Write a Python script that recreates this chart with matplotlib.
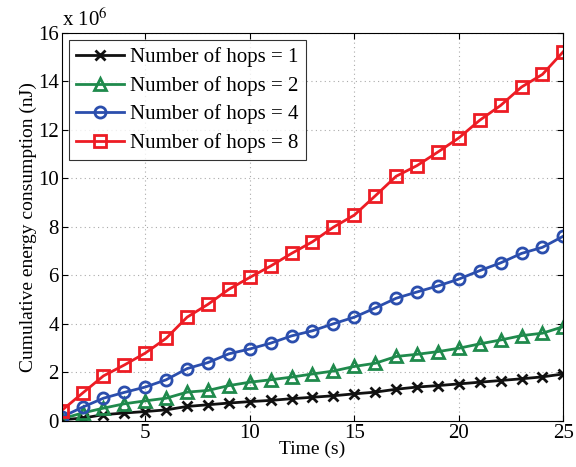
import matplotlib
matplotlib.use("Agg")
import matplotlib.pyplot as plt
import numpy as np

time = list(range(1, 26))
hops1 = [0.04, 0.11, 0.25, 0.32, 0.38, 0.45, 0.59, 0.66, 0.73, 0.79, 0.84, 0.91, 0.97, 1.03,
         1.11, 1.18, 1.30, 1.39, 1.45, 1.52, 1.59, 1.66, 1.73, 1.81, 1.93]
hops2 = [0.08, 0.32, 0.52, 0.70, 0.82, 0.93, 1.18, 1.25, 1.45, 1.59, 1.69, 1.80, 1.93, 2.05,
         2.24, 2.37, 2.65, 2.74, 2.85, 2.99, 3.17, 3.33, 3.51, 3.61, 3.88]
hops4 = [0.15, 0.56, 0.93, 1.17, 1.39, 1.69, 2.15, 2.40, 2.76, 2.96, 3.20, 3.50, 3.71, 4.00,
         4.27, 4.65, 5.05, 5.31, 5.56, 5.84, 6.19, 6.51, 6.90, 7.15, 7.61]
hops8 = [0.42, 1.14, 1.85, 2.30, 2.79, 3.40, 4.27, 4.80, 5.42, 5.91, 6.38, 6.90, 7.38, 7.98,
         8.48, 9.27, 10.08, 10.52, 11.08, 11.66, 12.39, 13.00, 13.76, 14.28, 15.22]
labels = ["Number of hops = 1", "Number of hops = 2", "Number of hops = 4", "Number of hops = 8"]

plt.rcParams['font.family'] = ['Liberation Serif', 'DejaVu Serif']
plt.rcParams['mathtext.fontset'] = 'stix'

fig = plt.figure(figsize=(5.76, 4.67), dpi=100)
ax = fig.add_axes([0.107, 0.099, 0.871, 0.831])

scale = 1e6
series = [hops1, hops2, hops4, hops8]
colors = ['#111111', '#1f8a4c', '#2b4ead', '#ed1c24']
markers = ['x', '^', 'o', 's']
msizes = [7, 8, 8, 8]
for s, c, m, ms, lab in zip(series, colors, markers, msizes, labels):
    ax.plot(time, np.array(s) * scale, color=c, marker=m, markersize=ms,
            markerfacecolor='none', markeredgecolor=c, markeredgewidth=2,
            linewidth=2, label=lab)

ax.set_xlim(1, 25)
ax.set_ylim(0, 16e6)
ax.set_xticks([5, 10, 15, 20, 25])
yt = np.arange(0, 17, 2)
ax.set_yticks(yt * scale)
ax.set_yticklabels([str(v) for v in yt])
ax.tick_params(direction='in', top=True, right=True, labelsize=15, length=4, pad=2)
ax.grid(True, linestyle=(0, (1, 3)), color='#aaaaaa', linewidth=0.8)
for sp in ax.spines.values():
    sp.set_linewidth(0.8)

ax.set_xlabel("Time (s)", fontsize=14, labelpad=-1)
ax.set_ylabel("Cumulative energy consumption (nJ)", fontsize=14, labelpad=1)
ax.text(0.0, 1.005, r"x 10$^{6}$", transform=ax.transAxes, fontsize=15,
        ha='left', va='bottom')

leg = ax.legend(loc='upper left', fontsize=15, frameon=True, fancybox=False,
                edgecolor='black', borderaxespad=0.35, handlelength=2.3,
                handletextpad=0.3, labelspacing=0.42, borderpad=0.35)
leg.get_frame().set_linewidth(0.8)

fig.savefig("out.png", dpi=100)
